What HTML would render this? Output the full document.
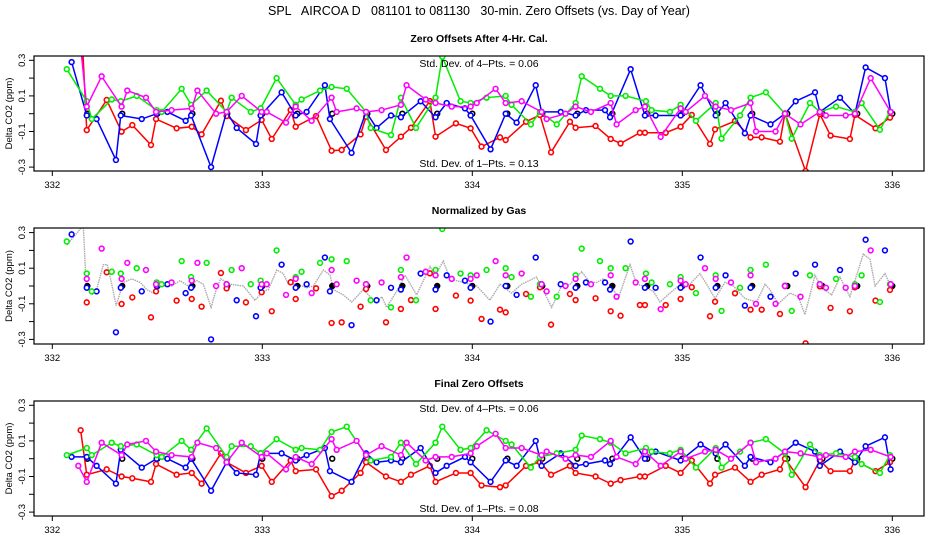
<!DOCTYPE html>
<html><head><meta charset="utf-8"><style>
body{margin:0;background:#fff;}
svg{display:block;font-family:"Liberation Sans",sans-serif;}
</style></head><body>
<svg id="chart" width="936" height="540" viewBox="0 0 936 540" xmlns="http://www.w3.org/2000/svg">
<rect width="936" height="540" fill="#fff"/>
<text x="479" y="15" font-size="12.5" text-anchor="middle" xml:space="preserve">SPL   AIRCOA D   081101 to 081130   30-min. Zero Offsets (vs. Day of Year)</text>
<g id="panels"></g>
</svg>
<script>
const redT=[332.135,332.164,332.259,332.330,332.381,332.470,332.494,332.592,332.664,332.711,332.803,332.830,332.922,332.997,333.045,333.135,333.159,333.256,333.330,333.378,333.468,333.494,333.589,333.660,333.708,333.798,333.825,333.922,333.992,334.044,334.132,334.159,334.256,334.322,334.375,334.465,334.492,334.587,334.659,334.706,334.798,334.822,334.921,334.992,335.045,335.132,335.156,335.251,335.325,335.378,335.465,335.489,335.587,335.655,335.706,335.798,335.822,335.920,335.989];
const redP1=[0.6,-0.092,0.077,-0.101,-0.064,-0.176,-0.030,-0.082,-0.073,-0.116,0.073,-0.013,-0.092,-0.035,-0.142,0.021,-0.073,-0.013,-0.208,-0.204,-0.116,-0.017,-0.204,-0.129,-0.079,0.071,-0.129,-0.054,-0.082,-0.185,-0.133,-0.148,-0.045,-0.007,-0.217,-0.045,-0.079,-0.069,-0.142,-0.167,-0.107,-0.107,-0.107,-0.073,-0.007,-0.170,-0.088,-0.041,-0.133,-0.133,-0.157,0.002,-0.322,-0.002,-0.123,-0.142,-0.007,-0.082,-0.022];
const redP3=[0.16,-0.09,-0.06,-0.10,-0.11,-0.13,-0.03,-0.09,-0.08,-0.14,0.03,-0.02,-0.08,-0.04,-0.13,-0.01,-0.07,-0.06,-0.21,-0.18,-0.08,-0.02,-0.10,-0.13,-0.09,-0.04,-0.13,-0.08,-0.08,-0.15,-0.16,-0.15,-0.04,-0.02,-0.09,-0.04,-0.08,-0.10,-0.14,-0.12,-0.10,-0.10,-0.04,-0.08,-0.01,-0.14,-0.09,-0.05,-0.13,-0.09,-0.06,0.00,-0.16,-0.01,-0.07,-0.07,-0.01,-0.07,-0.02];
const blueT=[332.092,332.164,332.211,332.303,332.326,332.426,332.497,332.548,332.635,332.661,332.756,332.830,332.878,332.970,332.992,333.092,333.159,333.211,333.298,333.322,333.425,333.494,333.544,333.613,333.660,333.754,333.825,333.878,333.965,333.992,334.087,334.159,334.211,334.302,334.330,334.421,334.492,334.541,334.632,334.656,334.754,334.822,334.873,334.992,335.087,335.159,335.206,335.298,335.325,335.420,335.489,335.540,335.632,335.655,335.751,335.822,335.873,335.965,335.992];
const blueP1=[0.29,-0.01,-0.03,-0.26,-0.01,-0.03,0.00,0.01,-0.04,-0.01,-0.30,0.01,-0.08,-0.17,-0.01,0.12,-0.01,0.01,0.16,-0.03,-0.22,0.01,-0.08,-0.01,-0.02,0.07,-0.02,0.06,0.03,-0.01,-0.20,0.00,-0.05,0.16,0.01,0.01,-0.01,0.02,0.02,-0.02,0.25,-0.01,-0.01,-0.01,0.16,-0.01,0.06,-0.11,-0.01,-0.06,0.00,0.07,0.12,0.01,0.09,0.00,0.26,0.20,0.01];
const blueP3=[0.01,0.01,-0.04,-0.14,0.05,-0.05,0.00,0.00,-0.05,0.00,-0.18,-0.02,-0.08,-0.09,0.03,0.03,-0.01,0.02,0.06,-0.07,-0.13,0.03,-0.02,-0.01,-0.02,0.06,-0.08,-0.04,0.01,-0.02,-0.13,-0.01,-0.04,0.10,-0.04,0.03,-0.04,-0.03,-0.01,-0.03,0.12,0.00,0.04,-0.01,0.08,0.03,0.08,-0.04,0.01,-0.02,0.04,0.09,0.04,-0.04,0.04,-0.02,0.07,0.12,-0.06];
const greenT=[332.069,332.164,332.188,332.283,332.326,332.402,332.497,332.521,332.616,332.661,332.735,332.830,332.854,332.945,332.992,333.068,333.159,333.187,333.275,333.330,333.402,333.494,333.516,333.613,333.660,333.732,333.825,333.857,333.944,333.992,334.068,334.159,334.187,334.279,334.322,334.402,334.492,334.521,334.608,334.659,334.730,334.827,334.854,334.941,334.992,335.065,335.159,335.187,335.275,335.325,335.398,335.489,335.521,335.608,335.655,335.732,335.822,335.854,335.941,335.989];
const greenP1=[0.25,0.07,-0.03,0.08,0.07,0.10,0.02,0.01,0.14,0.05,0.13,0.01,0.09,0.01,0.03,0.20,0.05,0.08,0.13,0.15,0.14,0.01,-0.08,-0.12,0.09,-0.08,0.09,0.32,0.07,0.06,0.09,0.10,0.05,-0.06,0.01,-0.06,0.06,0.21,0.14,0.10,0.10,0.07,0.02,0.01,0.05,-0.04,0.06,-0.14,-0.01,0.09,0.12,0.00,-0.14,0.06,0.01,0.04,0.01,0.06,-0.09,0.01];
const greenP3=[0.02,0.06,0.02,0.09,0.07,0.08,0.02,0.01,0.10,0.05,0.17,0.01,0.07,0.07,0.03,0.11,0.05,0.06,0.05,0.15,0.18,0.02,-0.01,0.01,0.09,-0.03,0.09,0.18,0.05,0.06,0.16,0.10,0.08,-0.05,0.01,0.03,0.05,0.13,0.11,0.09,0.03,0.06,0.04,0.03,0.05,-0.05,0.06,-0.05,0.04,0.09,0.11,0.03,-0.09,0.08,0.02,0.03,0.01,-0.03,-0.08,0.02];
const magT=[332.124,332.164,332.235,332.330,332.357,332.446,332.494,332.568,332.664,332.691,332.780,332.830,332.902,332.997,333.021,333.113,333.159,333.235,333.330,333.354,333.449,333.494,333.568,333.660,333.687,333.778,333.825,333.902,333.992,334.021,334.111,334.159,334.235,334.330,334.354,334.444,334.492,334.565,334.659,334.687,334.778,334.822,334.897,334.992,335.016,335.108,335.159,335.232,335.325,335.351,335.444,335.489,335.563,335.655,335.684,335.778,335.822,335.897,335.992];
const magP1=[0.5,0.04,0.21,0.04,0.13,0.09,0.01,0.02,0.03,0.13,0.00,0.01,0.10,0.01,0.01,-0.05,0.04,-0.04,0.09,0.01,0.03,0.01,0.02,0.05,0.16,0.08,0.06,0.04,0.04,0.06,0.14,0.06,0.07,0.01,-0.03,0.00,0.04,0.01,0.06,-0.06,0.02,0.04,-0.13,0.03,0.01,0.10,0.04,0.02,0.06,-0.10,-0.10,0.00,-0.06,0.01,-0.01,-0.01,0.00,0.20,0.01];
const magP3=[-0.04,-0.13,0.09,0.02,0.08,0.10,0.04,0.02,0.01,0.09,0.06,-0.02,0.09,0.01,0.03,-0.06,0.01,-0.03,0.11,0.05,0.10,0.02,0.07,0.02,0.09,-0.01,0.01,0.01,0.03,0.07,0.14,0.06,0.06,0.02,0.04,0.00,0.02,0.01,0.10,0.01,-0.03,0.04,-0.04,0.04,0.00,0.04,0.05,0.00,0.09,-0.02,0.00,0.04,0.03,0.01,0.02,0.01,0.04,0.05,0.01];
const calT=[332.167,332.333,332.5,332.667,332.833,333.0,333.167,333.333,333.5,333.667,333.833,334.0,334.167,334.333,334.5,334.667,334.833,335.0,335.167,335.333,335.5,335.667,335.833,336.0];
const grayT=[332.069,332.140,332.148,332.161,332.188,332.211,332.243,332.262,332.283,332.304,332.338,332.378,332.418,332.450,332.481,332.521,332.569,332.608,332.648,332.688,332.719,332.756,332.783,332.802,332.846,332.910,332.965,333.005,333.029,333.069,333.100,333.124,333.164,333.211,333.243,333.291,333.323,333.338,333.386,333.426,333.481,333.513,333.545,333.569,333.592,333.640,333.680,333.735,333.799,333.823,333.862,333.894,333.957,334.021,334.084,334.132,334.187,334.235,334.306,334.378,334.425,334.465,334.521,334.560,334.592,334.624,334.663,334.695,334.751,334.783,334.814,334.862,334.894,334.941,334.981,335.036,335.084,335.116,335.156,335.203,335.243,335.298,335.354,335.394,335.417,335.457,335.513,335.552,335.584,335.632,335.664,335.711,335.751,335.798,335.862,335.894,335.918,335.965,335.992];
const grayV=[0.23,0.33,0.33,0.01,-0.05,-0.02,0.12,0.12,0.01,-0.11,0.02,0.04,0.02,-0.02,-0.04,0,0,0.03,0,0.03,0.01,-0.12,-0.01,0.04,0.01,0,-0.08,-0.03,-0.02,0.09,0.07,0.01,0.01,-0.01,0,0.09,0.06,-0.02,-0.05,-0.09,-0.02,-0.06,-0.09,-0.06,-0.12,-0.03,0.06,-0.05,0.11,0.06,0.14,0.04,0.02,0,-0.08,0.01,-0.04,0.01,0.05,-0.12,0,0.01,0.08,0.02,0.02,0.04,0,-0.07,0.12,0.01,0,-0.03,-0.09,-0.04,0,0.01,0.07,0.01,-0.07,0.02,0,-0.07,-0.09,0.01,-0.02,-0.10,-0.04,-0.06,-0.16,0.06,-0.01,-0.05,0.05,-0.06,0.18,0.15,0,0.07,0];
const xTicks=[332,333,334,335,336];
const yTicks=[0.3,0.1,-0.1,-0.3];

const NS='http://www.w3.org/2000/svg';
const L=34,R=924;
const xs=d=>52.3+(d-332)*210;
function mk(tag,attrs,parent){const e=document.createElementNS(NS,tag);for(const k in attrs)e.setAttribute(k,attrs[k]);parent.appendChild(e);return e;}
const root=document.getElementById('panels');
const panels=[
 {top:56,bot:171,zero:113.7,title:'Zero Offsets After 4-Hr. Cal.',name:'panel-after-cal',lines:true,sd1:'0.13',sd4:'0.06',key:'p1'},
 {top:228,bot:344,zero:286,title:'Normalized by Gas',name:'panel-normalized',lines:false,key:'p2'},
 {top:401,bot:516,zero:458.7,title:'Final Zero Offsets',name:'panel-final',lines:true,sd1:'0.08',sd4:'0.06',key:'p3'}
];
const series=[
 {name:'red',color:'#ff0000',t:redT,p1:redP1,p3:redP3},
 {name:'blue',color:'#0000ff',t:blueT,p1:blueP1,p3:blueP3},
 {name:'green',color:'#00ee00',t:greenT,p1:greenP1,p3:greenP3},
 {name:'magenta',color:'#ff00ff',t:magT,p1:magP1,p3:magP3}
];
panels.forEach((p,pi)=>{
 const g=mk('g',{},root);
 
 
 const ys=v=>p.zero-v*178;
 const cid='clip'+pi;
 const cp=mk('clipPath',{id:cid},g);mk('rect',{x:L,y:p.top,width:R-L,height:p.bot-p.top},cp);
 const t=mk('text',{x:479,y:p.top-14,'font-size':'10.5','font-weight':'bold','text-anchor':'middle'},g);t.textContent=p.title;
 
 
 const yl=mk('text',{x:0,y:0,'font-size':'9.5','text-anchor':'middle',transform:`translate(12,${(p.top+p.bot)/2}) rotate(-90)`},g);yl.textContent='Delta CO2 (ppm)';
 
 
 for(let v=0.3;v>-0.31;v-=0.1){mk('line',{x1:L-5,x2:L,y1:ys(v),y2:ys(v),stroke:'#000'},g);}
 yTicks.forEach(v=>{const tl=mk('text',{x:0,y:0,'font-size':'9.5','text-anchor':'middle',transform:`translate(25,${ys(v)}) rotate(-90)`},g);tl.textContent=String(v);
  
  });
 xTicks.forEach(d=>{mk('line',{x1:xs(d),x2:xs(d),y1:p.bot,y2:p.bot+5,stroke:'#000'},g);
  const tl=mk('text',{x:xs(d),y:p.bot+17,'font-size':'9.5','text-anchor':'middle'},g);tl.textContent=String(d);
  
  });
 const pg=mk('g',{'clip-path':`url(#${cid})`},g);
 if(p.sd4){const s=mk('text',{x:479,y:p.top+11,'font-size':'10.5','text-anchor':'middle','xml:space':'preserve'},g);s.textContent='Std. Dev. of 4\u2013Pts. =  '+p.sd4;
  
  
  const s1=mk('text',{x:479,y:p.bot-4,'font-size':'10.5','text-anchor':'middle','xml:space':'preserve'},g);s1.textContent='Std. Dev. of 1\u2013Pts. =  '+p.sd1;
  
  }
 if(!p.lines){const gl=mk('polyline',{points:grayT.map((d,i)=>xs(d)+','+ys(grayV[i])).join(' '),fill:'none',stroke:'#aaa','stroke-width':'1.4','stroke-dasharray':'1.5 0.8'},pg);
  
  }
 calT.forEach(d=>{const c=mk('circle',{cx:xs(d),cy:ys(0),r:2.4,fill:pi==1?'#000':'none',stroke:'#000','stroke-width':'1.6'},pg);
  
  });
 series.forEach(s=>{
  const vals=p.key==='p3'?s.p3:s.p1;
  if(p.lines){const pl=mk('polyline',{points:s.t.map((d,i)=>xs(d)+','+ys(vals[i])).join(' '),fill:'none',stroke:s.color,'stroke-width':'1.5'},pg);
   
   }
  s.t.forEach((d,i)=>{const c=mk('circle',{cx:xs(d),cy:ys(vals[i]),r:2.4,fill:'#fff',stroke:s.color,'stroke-width':'1.6'},pg);
   
   });
 });
 const fr=mk('rect',{x:L,y:p.top,width:R-L,height:p.bot-p.top,fill:'none',stroke:'#000','stroke-width':'1.2'},g);
 
 
});
</script>
</body></html>
